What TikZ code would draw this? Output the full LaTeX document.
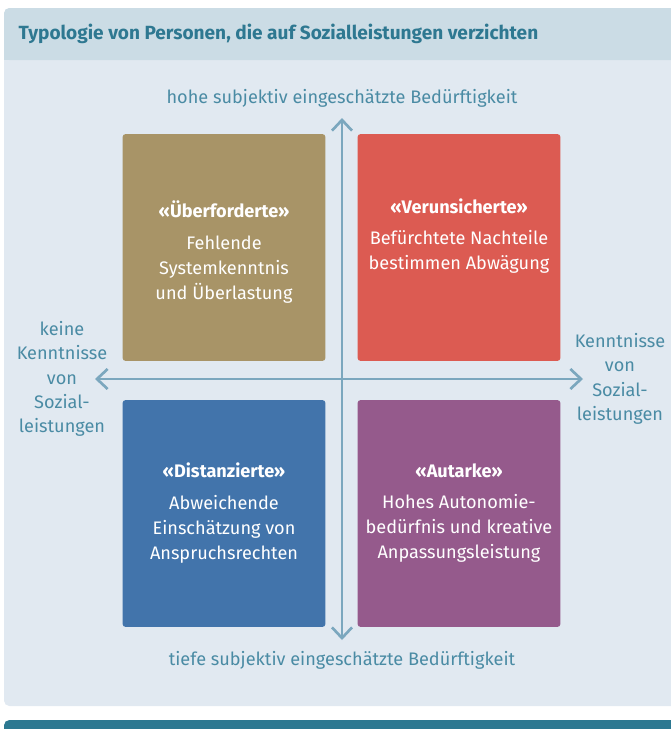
\documentclass[tikz,border=0pt]{standalone}
\usepackage{fontspec}
\setmainfont{Fira Sans}
\usetikzlibrary{arrows.meta}

\definecolor{panel}{HTML}{E1E9F1}
\definecolor{headbar}{HTML}{CBDCE5}
\definecolor{headtext}{HTML}{2E7891}
\definecolor{axis}{HTML}{7BA7BE}
\definecolor{axistext}{HTML}{4A8BA4}
\definecolor{gold}{HTML}{A89467}
\definecolor{coral}{HTML}{DC5B52}
\definecolor{steel}{HTML}{4274AB}
\definecolor{plum}{HTML}{955A8C}
\definecolor{footbar}{HTML}{2C7891}

\tikzset{
  quad/.style = {rounded corners=2pt, minimum width=152pt, minimum height=170pt, inner sep=0pt},
  quadtext/.style = {align=center, text=white, font=\fontsize{13.6}{18.7}\selectfont},
  axislabel/.style = {align=center, text=axistext, font=\fontsize{13.6}{18.3}\selectfont},
}

\begin{document}
\begin{tikzpicture}[x=0.75pt, y=-0.75pt]
  \useasboundingbox (0,0) rectangle (671,729);

  % background
  \fill[panel, rounded corners=4pt] (4,8) rectangle (690,706);
  \fill[headbar, rounded corners=4pt] (4,8) rectangle (690,60);
  \fill[headbar] (4,40) rectangle (690,60);
  \fill[footbar, rounded corners=4pt] (4,720) rectangle (690,750);
  \node[anchor=west, text=headtext, font=\fontsize{14.3}{16}\selectfont\bfseries] (title) at (14,34)
    {Typologie von Personen, die auf Sozialleistungen verzichten};

  % quadrants
  \node[quad, fill=gold]  (ueber) at (224,247.5) {};
  \node[quad, fill=coral] (verun) at (459,247.5) {};
  \node[quad, fill=steel] (dist)  at (224,513.5) {};
  \node[quad, fill=plum]  (aut)   at (459,513.5) {};

  \node[quadtext] (ueber-t) at (224,252) {\textbf{«Überforderte»}\\[5pt]Fehlende\\Systemkenntnis\\und Überlastung};
  \node[quadtext] (verun-t) at (459,236) {\textbf{«Verunsicherte»}\\[5pt]Befürchtete Nachteile\\bestimmen Abwägung};
  \node[quadtext] (dist-t)  at (224,513) {\textbf{«Distanzierte»}\\[5pt]Abweichende\\Einschätzung von\\Anspruchsrechten};
  \node[quadtext] (aut-t)   at (459,513) {\textbf{«Autarke»}\\[5pt]Hohes Autonomie-\\bedürfnis und kreative\\Anpassungsleistung};

  % axes
  \coordinate (top) at (342,118);
  \coordinate (bottom) at (342,640);
  \coordinate (left) at (95,379);
  \coordinate (right) at (583,379);
  \draw[axis, line width=2pt, {Straight Barb[length=8pt,width=15pt]}-{Straight Barb[length=8pt,width=15pt]}] (bottom) -- (top);
  \draw[axis, line width=2pt, {Straight Barb[length=8pt,width=15pt]}-{Straight Barb[length=8pt,width=15pt]}] (left) -- (right);

  \node[axislabel] (high) at (342,98) {hohe subjektiv eingeschätzte Bedürftigkeit};
  \node[axislabel] (low)  at (342,660) {tiefe subjektiv eingeschätzte Bedürftigkeit};
  \node[axislabel] (none) at (62,379) {keine\\Kenntnisse\\von\\Sozial-\\leistungen};
  \node[axislabel] (know) at (620,379) {Kenntnisse\\von\\Sozial-\\leistungen};
\end{tikzpicture}
\end{document}
